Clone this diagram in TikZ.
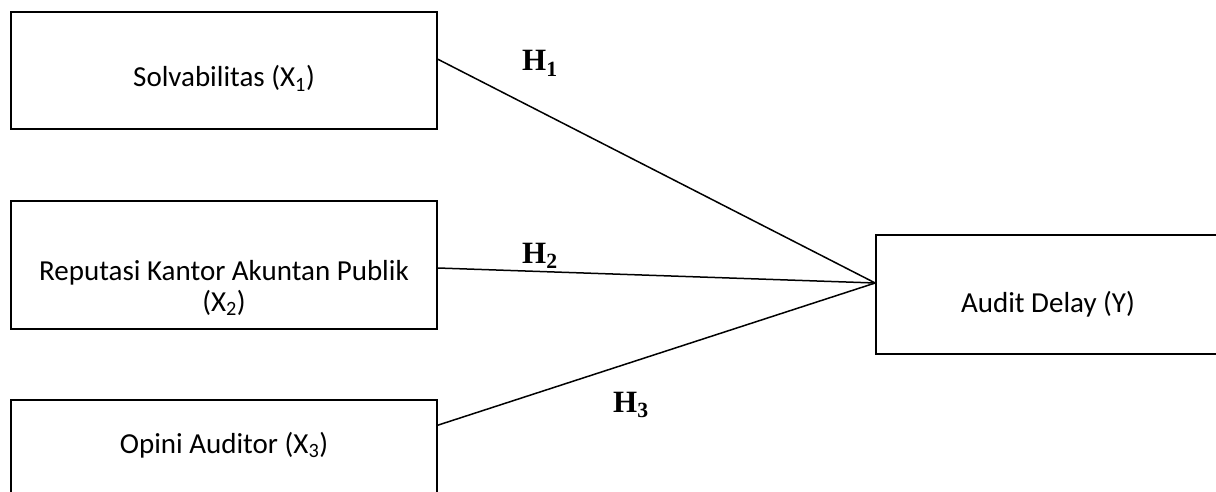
\documentclass[tikz,border=0pt]{standalone}
\usepackage{fontspec}
\setmainfont{Carlito}
\newfontfamily\hfont{Liberation Serif}
\begin{document}
\begin{tikzpicture}[x=1pt,y=-1pt,
  box/.style={draw,line width=1.6pt,inner sep=0pt},
  lbl/.style={font=\fontsize{29}{31}\selectfont,anchor=base,inner sep=0pt,align=center},
  hyp/.style={font=\hfont\bfseries\fontsize{31}{36}\selectfont,anchor=base west,inner sep=0pt},
  link/.style={line width=1.5pt}]
\useasboundingbox (0,0) rectangle (1216,492);
\node[box,minimum width=426pt,minimum height=117pt] (bx1) at (224,70.5) {};
\node[box,minimum width=426pt,minimum height=128pt] (bx2) at (224,265) {};
\node[box,minimum width=426pt,minimum height=110pt] (bx3) at (224,455) {};
\node[box,minimum width=346pt,minimum height=119pt] (bxy) at (1049,294.5) {};
\node[lbl] (t1) at (224,87) {Solvabilitas (X\textsubscript{1})};
\node[lbl] (t2) at (224,311) {Reputasi Kantor Akuntan Publik\\(X\textsubscript{2})};
\node[lbl] (t3) at (224,453) {Opini Auditor (X\textsubscript{3})};
\node[lbl] (ty) at (1048,312) {Audit Delay (Y)};
\draw[link] ([yshift=-48pt]bx1.north east) -- ([yshift=11.5pt]bxy.west);
\draw[link] ([yshift=-3pt]bx2.east) -- ([yshift=11.5pt]bxy.west);
\draw[link] ([yshift=-26pt]bx3.north east) -- ([yshift=11.5pt]bxy.west);
\node[hyp] (h1) at (522,71) {H\textsubscript{1}};
\node[hyp] (h2) at (522,263) {H\textsubscript{2}};
\node[hyp] (h3) at (613,412) {H\textsubscript{3}};
\end{tikzpicture}
\end{document}
